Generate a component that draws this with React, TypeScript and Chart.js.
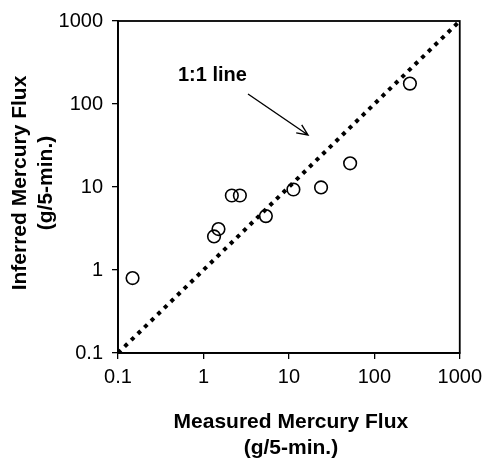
import React, { useEffect, useRef } from "react";
import { Chart, registerables } from "chart.js";

Chart.register(...registerables);

const measured = [0.148, 1.33, 1.5, 2.15, 2.67, 5.38, 11.3, 23.8, 52.1, 261];
const inferred = [0.8, 2.54, 3.11, 7.9, 7.9, 4.46, 9.33, 9.87, 19.3, 176];
const oneToOne = [0.1, 1000];
const tickValues = [0.1, 1, 10, 100, 1000];
const xTitle = ["Measured Mercury Flux", "(g/5-min.)"];
const yTitle = ["Inferred Mercury Flux", "(g/5-min.)"];
const annotationText = "1:1 line";

const FONT = "'Liberation Sans', Arial, sans-serif";

const decorPlugin = {
  id: "decor",
  afterDatasetsDraw(chart: any) {
    const { ctx, chartArea } = chart;
    const { left, right, top, bottom } = chartArea;
    ctx.save();
    ctx.strokeStyle = "#000";
    ctx.lineWidth = 1.8;
    ctx.strokeRect(left, top, right - left, bottom - top);

    ctx.fillStyle = "#000";
    ctx.font = `bold 21px ${FONT}`;
    ctx.textAlign = "center";
    ctx.textBaseline = "middle";
    const cx = (left + right) / 2;
    ctx.fillText(xTitle[0], cx + 2, 422);
    ctx.fillText(xTitle[1], cx + 2, 448);

    ctx.save();
    ctx.translate(20, 183);
    ctx.rotate(-Math.PI / 2);
    ctx.fillText(yTitle[0], 0, 0);
    ctx.fillText(yTitle[1], 0, 26);
    ctx.restore();

    ctx.font = `bold 20px ${FONT}`;
    ctx.textAlign = "left";
    ctx.fillText(annotationText, 178, 75);

    const x1 = 248, y1 = 94, x2 = 308, y2 = 135;
    ctx.lineWidth = 1.4;
    ctx.beginPath();
    ctx.moveTo(x1, y1);
    ctx.lineTo(x2, y2);
    const ang = Math.atan2(y2 - y1, x2 - x1);
    const hl = 12;
    const spread = 0.42;
    ctx.moveTo(x2 - hl * Math.cos(ang - spread), y2 - hl * Math.sin(ang - spread));
    ctx.lineTo(x2, y2);
    ctx.lineTo(x2 - hl * Math.cos(ang + spread), y2 - hl * Math.sin(ang + spread));
    ctx.stroke();
    ctx.restore();
  },
};

export default function App() {
  const ref = useRef<HTMLCanvasElement>(null);
  useEffect(() => {
    document.body.style.margin = "0";
    const ctx = ref.current!.getContext("2d")!;
    const axisCommon = {
      type: "logarithmic" as const,
      min: 0.1,
      max: 1000,
      afterBuildTicks: (scale: any) => {
        scale.ticks = tickValues.map((v) => ({ value: v }));
      },
      grid: {
        drawOnChartArea: false,
        drawTicks: true,
        tickLength: 6,
        color: "#000",
        lineWidth: 1.3,
      },
      border: { display: true, color: "#000", width: 1.8 },
    };
    const chart = new Chart(ctx, {
      type: "scatter",
      data: {
        datasets: [
          {
            type: "line",
            data: oneToOne.map((v) => ({ x: v, y: v })),
            borderColor: "#000",
            borderWidth: 4,
            borderDash: [4, 5.2],
            borderCapStyle: "butt",
            pointRadius: 0,
            fill: false,
          } as any,
          {
            data: measured.map((m, i) => ({ x: m, y: inferred[i] })),
            pointRadius: 6.3,
            pointBorderWidth: 1.6,
            borderColor: "#000",
            backgroundColor: "rgba(0,0,0,0)",
            pointBackgroundColor: "rgba(0,0,0,0)",
          },
        ],
      },
      options: {
        responsive: false,
        animation: false,
        layout: { padding: { top: 20, right: 25, left: 0, bottom: 0 } },
        plugins: { legend: { display: false }, tooltip: { enabled: false } },
        scales: {
          x: {
            ...axisCommon,
            afterFit: (scale: any) => {
              scale.height = 105;
            },
            ticks: {
              font: { family: FONT, size: 20 },
              color: "#000",
              padding: 6,
              maxRotation: 0,
              autoSkip: false,
              callback: (v: any) => String(v),
            },
          },
          y: {
            ...axisCommon,
            afterFit: (scale: any) => {
              scale.width = 118;
            },
            ticks: {
              font: { family: FONT, size: 20 },
              color: "#000",
              padding: 9,
              autoSkip: false,
              callback: (v: any) => String(v),
            },
          },
        },
      } as any,
      plugins: [decorPlugin],
    });
    return () => chart.destroy();
  }, []);
  return (
    <div style={{ position: "absolute", left: 0, top: 0, width: 488, height: 458, background: "#fff" }}>
      <canvas ref={ref} width={488} height={458} style={{ display: "block" }} />
    </div>
  );
}
